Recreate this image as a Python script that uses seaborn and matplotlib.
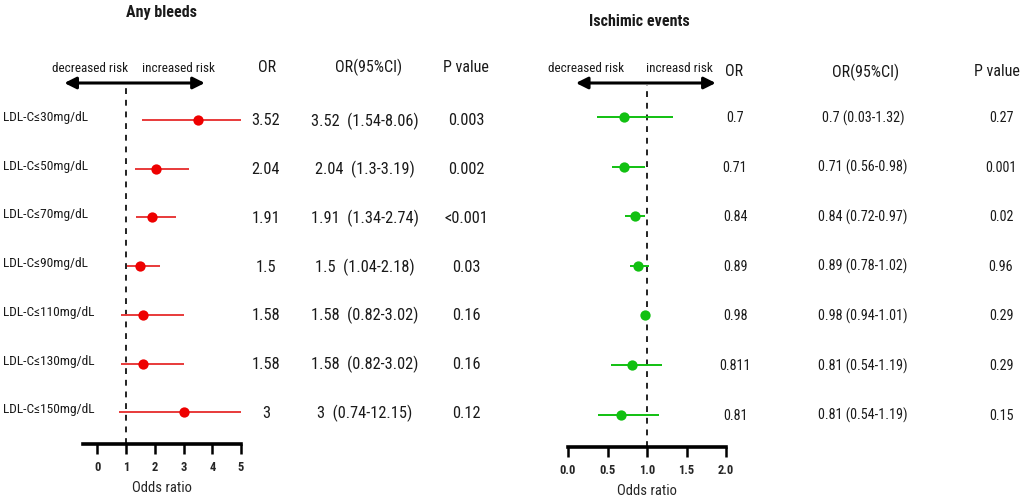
import matplotlib
matplotlib.use("Agg")
import matplotlib.pyplot as plt
import matplotlib.transforms as mtransforms
import seaborn as sns
import pandas as pd
import numpy as np

sns.set_style("white")
plt.rcParams['font.family'] = ['Roboto Condensed', 'PT Sans Narrow', 'DejaVu Sans']
plt.rcParams['text.color'] = '#1a1a1a'

# ---------------- data ----------------
labels = ["LDL-C≤30mg/dL", "LDL-C≤50mg/dL", "LDL-C≤70mg/dL", "LDL-C≤90mg/dL",
          "LDL-C≤110mg/dL", "LDL-C≤130mg/dL", "LDL-C≤150mg/dL"]

bleed_or = [3.52, 2.04, 1.91, 1.5, 1.58, 1.58, 3.0]
bleed_lo = [1.54, 1.3, 1.34, 1.04, 0.82, 0.82, 0.74]
bleed_hi = [8.06, 3.19, 2.74, 2.18, 3.02, 3.02, 12.15]
bleed_or_txt = ["3.52", "2.04", "1.91", "1.5", "1.58", "1.58", "3"]
bleed_ci_txt = ["3.52  (1.54-8.06)", "2.04  (1.3-3.19)", "1.91  (1.34-2.74)",
                "1.5  (1.04-2.18)", "1.58  (0.82-3.02)", "1.58  (0.82-3.02)",
                "3  (0.74-12.15)"]
bleed_p_txt = ["0.003", "0.002", "<0.001", "0.03", "0.16", "0.16", "0.12"]

# plotted positions as drawn in the figure
isch_or = [0.71, 0.71, 0.85, 0.89, 0.98, 0.81, 0.67]
isch_lo = [0.37, 0.56, 0.72, 0.78, 0.94, 0.54, 0.38]
isch_hi = [1.33, 0.98, 0.97, 1.02, 1.01, 1.19, 1.15]
isch_or_txt = ["0.7", "0.71", "0.84", "0.89", "0.98", "0.811", "0.81"]
isch_ci_txt = ["0.7 (0.03-1.32)", "0.71 (0.56-0.98)", "0.84 (0.72-0.97)",
               "0.89 (0.78-1.02)", "0.98 (0.94-1.01)", "0.81 (0.54-1.19)",
               "0.81 (0.54-1.19)"]
isch_p_txt = ["0.27", "0.001", "0.02", "0.96", "0.29", "0.29", "0.15"]

bleed_ticks = [0, 1, 2, 3, 4, 5]
isch_ticks = [0.0, 0.5, 1.0, 1.5, 2.0]

W, H = 1022, 498
fig = plt.figure(figsize=(W / 100, H / 100), dpi=100)


def fx(px):
    return px / W


def add_ax(x0, x1, ytop, ybot):
    return fig.add_axes([x0 / W, 1 - ybot / H, (x1 - x0) / W, (ybot - ytop) / H])


RED = "#ee0000"
REDL = "#e83a3a"
GREEN = "#11c011"


def forest(ax, orv, lo, hi, color, lcolor, xlim, ticks, ticklabels, ylim):
    df = pd.DataFrame({"row": np.arange(len(orv)), "or": orv, "lo": lo, "hi": hi})
    ax.hlines(df["row"], df["lo"], df["hi"], color=lcolor, lw=1.4, zorder=2)
    sns.scatterplot(data=df, x="or", y="row", ax=ax, color=color, s=55,
                    edgecolor=color, linewidth=0, zorder=3, legend=False)
    ax.axvline(1, color="#222222", ls=(0, (3, 3)), lw=1.4, zorder=1)
    ax.set_xlim(*xlim)
    ax.set_ylim(*ylim)
    ax.set_yticks([])
    ax.set_ylabel("")
    for s in ["top", "right", "left"]:
        ax.spines[s].set_visible(False)
    ax.spines["bottom"].set_linewidth(2.6)
    ax.spines["bottom"].set_color("black")
    ax.set_xticks(ticks)
    ax.set_xticklabels(ticklabels, fontsize=9, fontweight="bold")
    ax.tick_params(axis="x", direction="out", length=7, width=1.8, pad=5,
                   bottom=True, color="black")
    ax.set_xlabel("Odds ratio", fontsize=10.5, labelpad=5)
    ax.patch.set_alpha(0)


# ---------------- left panel ----------------
row0, step = 120, 48.7
ytop, ybot = 85, 444
ylimL = ((ybot - row0) / step, (ytop - row0) / step)
axL = add_ax(83, 241, ytop, ybot)
forest(axL, bleed_or, bleed_lo, bleed_hi, RED, REDL, (-0.5, 5),
       bleed_ticks, [str(t) for t in bleed_ticks], ylimL)

# ---------------- right panel ----------------
row0R, stepR = 117, 49.6
ytopR, ybotR = 85, 447
ylimR = ((ybotR - row0R) / stepR, (ytopR - row0R) / stepR)
axR = add_ax(568, 726, ytopR, ybotR)
forest(axR, isch_or, isch_lo, isch_hi, GREEN, GREEN, (0, 2),
       isch_ticks, [f"{t:.1f}" for t in isch_ticks], ylimR)

# arrows
def arrow(ax, x0, x1, ypx, row0, step):
    y = (ypx - row0) / step
    ax.annotate("", xy=(x0, y), xytext=(x1, y), annotation_clip=False,
                arrowprops=dict(arrowstyle="<|-|>,head_length=0.7,head_width=0.35",
                                color="black", lw=2.2, shrinkA=0, shrinkB=0))

arrow(axL, -1.15, 3.74, 83, row0, step)
arrow(axR, 0.1, 1.87, 83, row0R, stepR)

fs_risk = 9.5
fig.text(fx(90), 1 - 68 / H, "decreased risk", ha="center", va="center", fontsize=fs_risk)
fig.text(fx(178), 1 - 68 / H, "increased risk", ha="center", va="center", fontsize=fs_risk)
fig.text(fx(586), 1 - 69 / H, "decreased risk", ha="center", va="center", fontsize=fs_risk)
fig.text(fx(679), 1 - 69 / H, "increasd risk", ha="center", va="center", fontsize=fs_risk)

# titles
fig.text(fx(162), 1 - 12 / H, "Any bleeds", ha="center", va="center",
         fontsize=11.5, fontweight="bold")
fig.text(fx(639), 1 - 22 / H, "Ischimic events", ha="center", va="center",
         fontsize=11.5, fontweight="bold")

# headers
fs_hdr = 11.5
hdr_y = 1 - 67 / H
fig.text(fx(267), hdr_y, "OR", ha="center", va="center", fontsize=fs_hdr)
fig.text(fx(369), hdr_y, "OR(95%CI)", ha="center", va="center", fontsize=fs_hdr)
fig.text(fx(466), hdr_y, "P value", ha="center", va="center", fontsize=fs_hdr)
hdr_yR = 1 - 72 / H
fig.text(fx(734), hdr_yR, "OR", ha="center", va="center", fontsize=fs_hdr)
fig.text(fx(866), hdr_yR, "OR(95%CI)", ha="center", va="center", fontsize=fs_hdr)
fig.text(fx(997), hdr_yR, "P value", ha="center", va="center", fontsize=fs_hdr)

# table text
trL = mtransforms.blended_transform_factory(fig.transFigure, axL.transData)
trR = mtransforms.blended_transform_factory(fig.transFigure, axR.transData)
fsL, fsR = 11.8, 10.2
for i in range(len(labels)):
    fig.text(fx(3), i - 0.05, labels[i], transform=trL, ha="left", va="center", fontsize=9.6)
    fig.text(fx(266), i + 0.02, bleed_or_txt[i], transform=trL, ha="center", va="center", fontsize=fsL)
    fig.text(fx(365), i + 0.02, bleed_ci_txt[i], transform=trL, ha="center", va="center", fontsize=fsL)
    fig.text(fx(466), i + 0.02, bleed_p_txt[i], transform=trL, ha="center", va="center", fontsize=fsL)
    fig.text(fx(735), i + 0.02, isch_or_txt[i], transform=trR, ha="center", va="center", fontsize=fsR)
    fig.text(fx(863), i + 0.02, isch_ci_txt[i], transform=trR, ha="center", va="center", fontsize=fsR)
    fig.text(fx(1001), i + 0.02, isch_p_txt[i], transform=trR, ha="center", va="center", fontsize=fsR)

fig.savefig("out.png", dpi=100, facecolor="white")
